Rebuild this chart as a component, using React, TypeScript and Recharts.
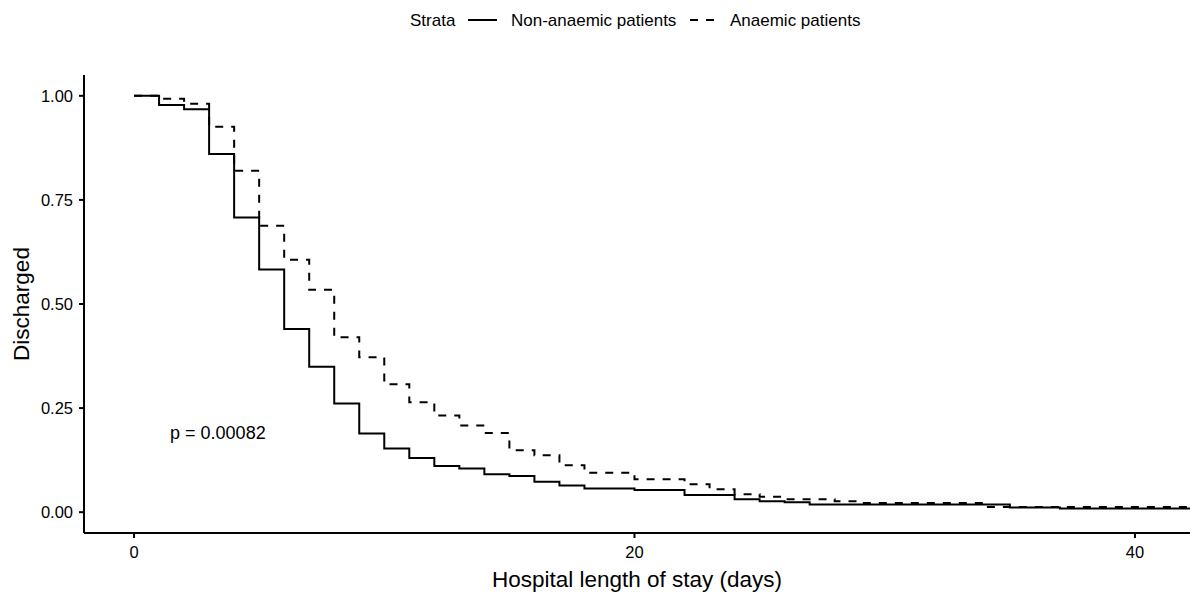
import { LineChart, Line, XAxis, YAxis, ReferenceDot } from 'recharts';

// Kaplan-Meier style step curves
const times = [0, 1, 2, 3, 4, 5, 6, 7, 8, 9, 10, 11, 12, 13, 14, 15, 16, 17, 18, 20, 22, 23, 24, 25, 26, 27, 28, 29, 34, 35, 37, 45];
const nonAnaemic = [1.0, 0.978, 0.968, 0.86, 0.708, 0.583, 0.44, 0.349, 0.261, 0.189, 0.153, 0.13, 0.111, 0.105, 0.091, 0.087, 0.073, 0.064, 0.057, 0.053, 0.041, 0.041, 0.031, 0.026, 0.024, 0.0185, 0.0185, 0.0185, 0.0185, 0.0115, 0.009, 0.009];
const anaemic = [1.0, 0.993, 0.981, 0.926, 0.82, 0.688, 0.606, 0.534, 0.42, 0.372, 0.307, 0.264, 0.232, 0.208, 0.19, 0.149, 0.137, 0.113, 0.095, 0.079, 0.067, 0.055, 0.043, 0.037, 0.031, 0.031, 0.026, 0.022, 0.0125, 0.0125, 0.0125, 0.0125];

const xTicks = [0, 20, 40];
const yTicks = [0, 0.25, 0.5, 0.75, 1];
const pValueText = 'p = 0.00082';

const data = times.map((t, i) => ({ t, nonAnaemic: nonAnaemic[i], anaemic: anaemic[i] }));

const FONT = '"Liberation Sans", Arial, sans-serif';

export default function App() {
  return (
    <div style={{ position: 'absolute', left: 0, top: 0, width: 1190, height: 594, background: '#fff', fontFamily: FONT }}>
      <svg width={1190} height={40} style={{ position: 'absolute', left: 0, top: 0 }}>
        <g fontFamily={FONT} fontSize={17} fill="#000">
          <text x={410} y={26}>Strata</text>
          <line x1={468} x2={497} y1={20} y2={20} stroke="#000" strokeWidth={2} />
          <text x={511} y={26}>Non-anaemic patients</text>
          <line x1={690} x2={714} y1={20} y2={20} stroke="#000" strokeWidth={2} strokeDasharray="8 8" />
          <text x={730} y={26}>Anaemic patients</text>
        </g>
      </svg>
      <div style={{ position: 'absolute', left: 0, top: 0 }}>
        <LineChart width={1190} height={594} data={data} margin={{ top: 75, right: 0, bottom: 0, left: 0 }}>
          <XAxis
            dataKey="t"
            type="number"
            domain={[-2, 42.2]}
            allowDataOverflow
            ticks={xTicks}
            height={61}
            stroke="#000"
            axisLine={{ stroke: '#000', strokeWidth: 2 }}
            tickLine={{ stroke: '#000', strokeWidth: 2 }}
            tickSize={5}
            tickMargin={8}
            tick={{ fill: '#000', fontSize: 16.5, fontFamily: FONT }}
            label={{ value: 'Hospital length of stay (days)', position: 'insideBottom', offset: 7, style: { fill: '#000', fontSize: 22.5, fontFamily: FONT } }}
          />
          <YAxis
            type="number"
            domain={[-0.05, 1.05]}
            ticks={yTicks}
            width={84}
            stroke="#000"
            axisLine={{ stroke: '#000', strokeWidth: 2 }}
            tickLine={{ stroke: '#000', strokeWidth: 2 }}
            tickSize={5}
            tickMargin={6}
            tickFormatter={(v: number) => v.toFixed(2)}
            tick={{ fill: '#000', fontSize: 16.5, fontFamily: FONT }}
            label={{ value: 'Discharged', angle: -90, position: 'insideLeft', offset: 21, style: { textAnchor: 'middle', fill: '#000', fontSize: 22.5, fontFamily: FONT } }}
          />
          <Line
            dataKey="nonAnaemic"
            type="stepAfter"
            stroke="#000"
            strokeWidth={2}
            dot={false}
            activeDot={false}
            isAnimationActive={false}
          />
          <Line
            dataKey="anaemic"
            type="stepAfter"
            stroke="#000"
            strokeWidth={2}
            strokeDasharray="8 8"
            dot={false}
            activeDot={false}
            isAnimationActive={false}
          />
          <ReferenceDot
            x={1.44}
            y={0.192}
            r={0}
            fill="none"
            stroke="none"
            label={{ value: pValueText, position: 'right', offset: 0, style: { fill: '#000', fontSize: 18, fontFamily: FONT } }}
          />
        </LineChart>
      </div>
    </div>
  );
}
